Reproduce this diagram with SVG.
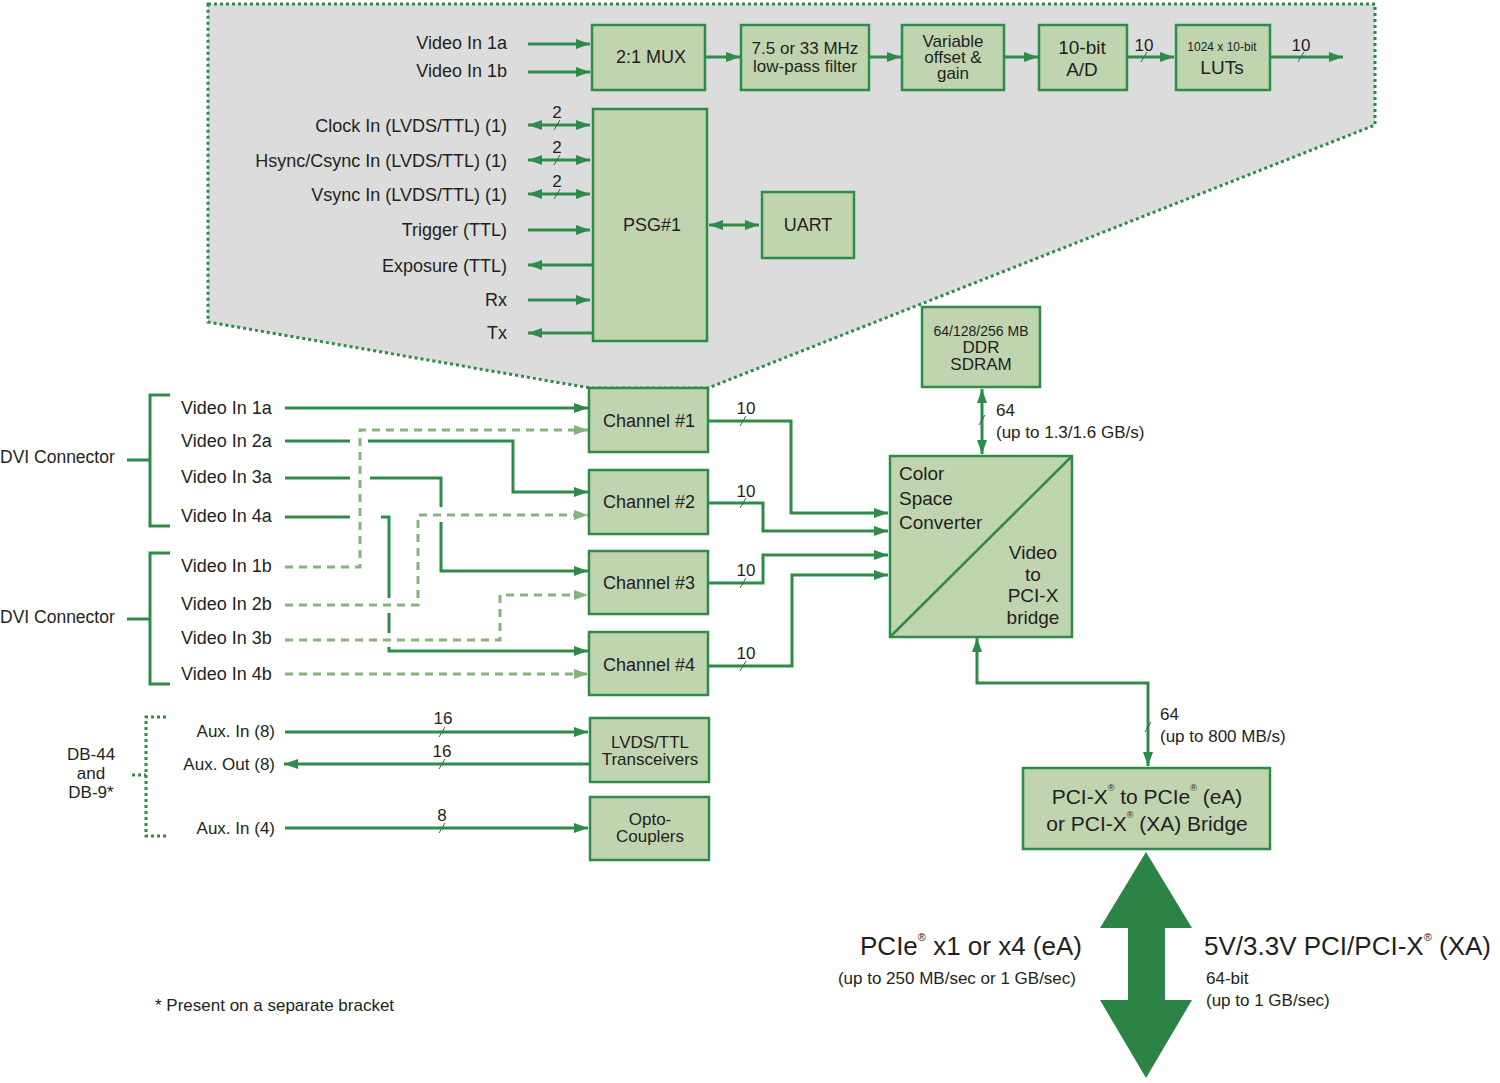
<svg xmlns="http://www.w3.org/2000/svg" width="1500" height="1083" viewBox="0 0 1500 1083">
<style>
.ln{stroke:#2e8b4a;stroke-width:3;fill:none}
.dl{stroke:#86b37d;stroke-width:3;fill:none;stroke-dasharray:8 6}
.dot{stroke:#2e8b4a;stroke-width:3;fill:none;stroke-dasharray:3 3}
.zone{stroke:#2e8b4a;stroke-width:3;fill:#dcdcdc;stroke-dasharray:3 3}
.box{fill:#c0d4b0;stroke:#2e8b4a;stroke-width:2.5}
.sl{stroke:#2e6b3a;stroke-width:1;fill:none}
text{font-family:"Liberation Sans",Arial,sans-serif;font-size:18px;fill:#231f20;dominant-baseline:central}
.c{text-anchor:middle}
.e{text-anchor:end}
</style>
<defs>
<marker id="a" viewBox="0 0 14 10" refX="14" refY="5" markerWidth="14" markerHeight="10" markerUnits="userSpaceOnUse" orient="auto-start-reverse"><path d="M0,0 L14,5 L0,10 z" fill="#2e8b4a"/></marker>
<marker id="b" viewBox="0 0 14 10" refX="14" refY="5" markerWidth="14" markerHeight="10" markerUnits="userSpaceOnUse" orient="auto-start-reverse"><path d="M0,0 L14,5 L0,10 z" fill="#86b37d"/></marker>
</defs>
<rect width="1500" height="1083" fill="#ffffff"/>

<g id="zoom-region">
<polygon class="zone" points="208,4 1375,4 1375,125 708,388 590,388 208,322"/>
</g>

<g id="connectors">
<!-- top pipeline -->
<path class="ln" d="M528,44 H590" marker-end="url(#a)"/>
<path class="ln" d="M528,72 H590" marker-end="url(#a)"/>
<path class="ln" d="M705,57 H740" marker-end="url(#a)"/>
<path class="ln" d="M869,57 H901" marker-end="url(#a)"/>
<path class="ln" d="M1004,57 H1038" marker-end="url(#a)"/>
<path class="ln" d="M1127,57 H1174" marker-end="url(#a)"/>
<path class="ln" d="M1270,57 H1343" marker-end="url(#a)"/>
<path class="sl" d="M1141,62 L1147,52 M1298,62 L1304,52"/>
<!-- PSG signals -->
<path class="ln" d="M528,125 H590" marker-start="url(#a)" marker-end="url(#a)"/>
<path class="ln" d="M528,160 H590" marker-start="url(#a)" marker-end="url(#a)"/>
<path class="ln" d="M528,194 H590" marker-start="url(#a)" marker-end="url(#a)"/>
<path class="sl" d="M554,130 L560,120 M554,165 L560,155 M554,199 L560,189"/>
<path class="ln" d="M528,230 H590" marker-end="url(#a)"/>
<path class="ln" d="M593,265 H528" marker-end="url(#a)"/>
<path class="ln" d="M528,300 H590" marker-end="url(#a)"/>
<path class="ln" d="M593,333 H528" marker-end="url(#a)"/>
<path class="ln" d="M709,225 H759" marker-start="url(#a)" marker-end="url(#a)"/>
<!-- DVI brackets -->
<path class="ln" d="M170,395 H150 V526 H170 M127,460 H150"/>
<path class="ln" d="M170,553 H150 V684 H170 M127,619 H150"/>
<!-- video a inputs (solid) -->
<path class="ln" d="M285,408 H588" marker-end="url(#a)"/>
<path class="ln" d="M285,441 H350"/>
<path class="ln" d="M368,441 H513 V492 H588" marker-end="url(#a)"/>
<path class="ln" d="M285,478 H350"/>
<path class="ln" d="M370,478 H441 V507"/>
<path class="ln" d="M441,522 V571 H588" marker-end="url(#a)"/>
<path class="ln" d="M285,517 H350"/>
<path class="ln" d="M381,517 H389 V598"/>
<path class="ln" d="M389,613 V633"/>
<path class="ln" d="M389,647 V651 H588" marker-end="url(#a)"/>
<!-- video b inputs (dashed) -->
<path class="dl" d="M285,567 H360 V430 H588" marker-end="url(#b)"/>
<path class="dl" d="M285,605 H418 V515 H588" marker-end="url(#b)"/>
<path class="dl" d="M285,640 H500 V595 H588" marker-end="url(#b)"/>
<path class="dl" d="M285,674 H588" marker-end="url(#b)"/>
<!-- channels to CSC -->
<path class="ln" d="M708,421 H791 V513 H888" marker-end="url(#a)"/>
<path class="ln" d="M708,503 H763 V531 H888" marker-end="url(#a)"/>
<path class="ln" d="M708,583 H763 V555 H888" marker-end="url(#a)"/>
<path class="ln" d="M708,666 H792 V575 H888" marker-end="url(#a)"/>
<path class="sl" d="M740,426 L746,416 M740,508 L746,498 M740,588 L746,578 M740,671 L746,661"/>
<!-- DDR -->
<path class="ln" d="M982,389 V454" marker-start="url(#a)" marker-end="url(#a)"/>
<path class="sl" d="M979,425 L985,415"/>
<!-- CSC to PCI bridge -->
<path class="ln" d="M977,638 V683 H1148 V766" marker-start="url(#a)" marker-end="url(#a)"/>
<path class="sl" d="M1145,732 L1151,722"/>
<!-- Aux -->
<path class="dot" d="M166,717 H146 V836 H166 M132,775 H146"/>
<path class="ln" d="M285,732 H588" marker-end="url(#a)"/>
<path class="ln" d="M590,764 H284" marker-end="url(#a)"/>
<path class="ln" d="M285,828 H588" marker-end="url(#a)"/>
<path class="sl" d="M439,737 L445,727 M439,769 L445,759 M439,833 L445,823"/>
<!-- big bus arrow -->
<polygon points="1146,852 1192,928 1165,928 1165,1000 1192,1000 1146,1078 1100,1000 1128,1000 1128,928 1100,928" fill="#2b8446"/>
</g>

<g id="labels">
<text class="e" x="507" y="43">Video In 1a</text>
<text class="e" x="507" y="71">Video In 1b</text>
<text class="e" x="507" y="126">Clock In (LVDS/TTL) (1)</text>
<text class="e" x="507" y="161">Hsync/Csync In (LVDS/TTL) (1)</text>
<text class="e" x="507" y="195">Vsync In (LVDS/TTL) (1)</text>
<text class="e" x="507" y="230">Trigger (TTL)</text>
<text class="e" x="507" y="266">Exposure (TTL)</text>
<text class="e" x="507" y="300">Rx</text>
<text class="e" x="507" y="333">Tx</text>
<text class="c" x="557" y="112" style="font-size:17px">2</text>
<text class="c" x="557" y="147" style="font-size:17px">2</text>
<text class="c" x="557" y="181" style="font-size:17px">2</text>
<text class="c" x="1144" y="45" style="font-size:17px">10</text>
<text class="c" x="1301" y="45" style="font-size:17px">10</text>
<text x="0" y="457" style="font-size:17.5px">DVI Connector</text>
<text x="0" y="617" style="font-size:17.5px">DVI Connector</text>
<text x="181" y="408">Video In 1a</text>
<text x="181" y="441">Video In 2a</text>
<text x="181" y="477">Video In 3a</text>
<text x="181" y="516">Video In 4a</text>
<text x="181" y="566">Video In 1b</text>
<text x="181" y="604">Video In 2b</text>
<text x="181" y="638">Video In 3b</text>
<text x="181" y="674">Video In 4b</text>
<text class="c" x="746" y="408" style="font-size:17px">10</text>
<text class="c" x="746" y="491" style="font-size:17px">10</text>
<text class="c" x="746" y="570" style="font-size:17px">10</text>
<text class="c" x="746" y="653" style="font-size:17px">10</text>
<text x="996" y="410" style="font-size:17px">64</text>
<text x="996" y="432" style="font-size:17px">(up to 1.3/1.6 GB/s)</text>
<text x="1160" y="714" style="font-size:17px">64</text>
<text x="1160" y="736" style="font-size:17px">(up to 800 MB/s)</text>
<text class="c" x="91" y="754" style="font-size:17px">DB-44</text>
<text class="c" x="91" y="773" style="font-size:17px">and</text>
<text class="c" x="91" y="792" style="font-size:17px">DB-9*</text>
<text class="e" x="275" y="731" style="font-size:17px">Aux. In (8)</text>
<text class="e" x="275" y="764" style="font-size:17px">Aux. Out (8)</text>
<text class="e" x="275" y="828" style="font-size:17px">Aux. In (4)</text>
<text class="c" x="443" y="718" style="font-size:17px">16</text>
<text class="c" x="442" y="751" style="font-size:17px">16</text>
<text class="c" x="442" y="815" style="font-size:17px">8</text>
<text class="e" x="1082" y="946" style="font-size:26px">PCIe<tspan font-size="11" dy="-9">®</tspan><tspan dy="9"> x1 or x4 (eA)</tspan></text>
<text class="e" x="1076" y="978" style="font-size:17px">(up to 250 MB/sec or 1 GB/sec)</text>
<text x="1204" y="946" style="font-size:26px">5V/3.3V PCI/PCI-X<tspan font-size="11" dy="-9">®</tspan><tspan dy="9"> (XA)</tspan></text>
<text x="1206" y="978" style="font-size:17px">64-bit</text>
<text x="1206" y="1000" style="font-size:17px">(up to 1 GB/sec)</text>
<text x="155" y="1005" style="font-size:17px">* Present on a separate bracket</text>
</g>

<g id="mux"><rect class="box" x="592" y="25" width="113" height="65"/><text class="c" x="651" y="57">2:1 MUX</text></g>
<g id="lpf"><rect class="box" x="741" y="25" width="128" height="65"/><text class="c" x="805" y="48" style="font-size:17px">7.5 or 33 MHz</text><text class="c" x="805" y="66" style="font-size:17px">low-pass filter</text></g>
<g id="offset"><rect class="box" x="902" y="25" width="102" height="65"/><text class="c" x="953" y="41" style="font-size:17px">Variable</text><text class="c" x="953" y="57" style="font-size:17px">offset &amp;</text><text class="c" x="953" y="73" style="font-size:17px">gain</text></g>
<g id="ad"><rect class="box" x="1039" y="25" width="88" height="65"/><text class="c" x="1082" y="47" style="font-size:19px">10-bit</text><text class="c" x="1082" y="69" style="font-size:19px">A/D</text></g>
<g id="luts"><rect class="box" x="1176" y="25" width="94" height="65"/><text class="c" x="1222" y="47" style="font-size:12px">1024 x 10-bit</text><text class="c" x="1222" y="67" style="font-size:19px">LUTs</text></g>
<g id="psg"><rect class="box" x="593" y="109" width="114" height="232"/><text class="c" x="652" y="225">PSG#1</text></g>
<g id="uart"><rect class="box" x="762" y="192" width="92" height="66"/><text class="c" x="808" y="225">UART</text></g>
<g id="ch1"><rect class="box" x="589" y="388" width="119" height="64"/><text class="c" x="649" y="421">Channel #1</text></g>
<g id="ch2"><rect class="box" x="589" y="470" width="119" height="64"/><text class="c" x="649" y="502">Channel #2</text></g>
<g id="ch3"><rect class="box" x="589" y="551" width="119" height="63"/><text class="c" x="649" y="583">Channel #3</text></g>
<g id="ch4"><rect class="box" x="589" y="632" width="119" height="63"/><text class="c" x="649" y="665">Channel #4</text></g>
<g id="ddr"><rect class="box" x="922" y="307" width="118" height="80"/><text class="c" x="981" y="331" style="font-size:14px">64/128/256 MB</text><text class="c" x="981" y="347" style="font-size:17px">DDR</text><text class="c" x="981" y="364" style="font-size:17px">SDRAM</text></g>
<g id="csc"><rect class="box" x="890" y="456" width="182" height="181"/><path class="ln" style="stroke-width:2.5" d="M890,637 L1072,456"/>
<text x="899" y="473" style="font-size:19px">Color</text><text x="899" y="498" style="font-size:19px">Space</text><text x="899" y="522" style="font-size:19px">Converter</text>
<text class="c" x="1033" y="552" style="font-size:19px">Video</text><text class="c" x="1033" y="574" style="font-size:19px">to</text><text class="c" x="1033" y="595" style="font-size:19px">PCI-X</text><text class="c" x="1033" y="617" style="font-size:19px">bridge</text></g>
<g id="lvds"><rect class="box" x="590" y="718" width="119" height="64"/><text class="c" x="650" y="742" style="font-size:17px">LVDS/TTL</text><text class="c" x="650" y="759" style="font-size:17px">Transceivers</text></g>
<g id="opto"><rect class="box" x="590" y="797" width="119" height="63"/><text class="c" x="650" y="819" style="font-size:17px">Opto-</text><text class="c" x="650" y="836" style="font-size:17px">Couplers</text></g>
<g id="pcibridge"><rect class="box" x="1023" y="768" width="247" height="81"/>
<text class="c" x="1147" y="796" style="font-size:21px">PCI-X<tspan font-size="9" dy="-8">®</tspan><tspan dy="8"> to PCIe</tspan><tspan font-size="9" dy="-8">®</tspan><tspan dy="8"> (eA)</tspan></text>
<text class="c" x="1147" y="823" style="font-size:21px">or PCI-X<tspan font-size="9" dy="-8">®</tspan><tspan dy="8"> (XA) Bridge</tspan></text></g>
</svg>
